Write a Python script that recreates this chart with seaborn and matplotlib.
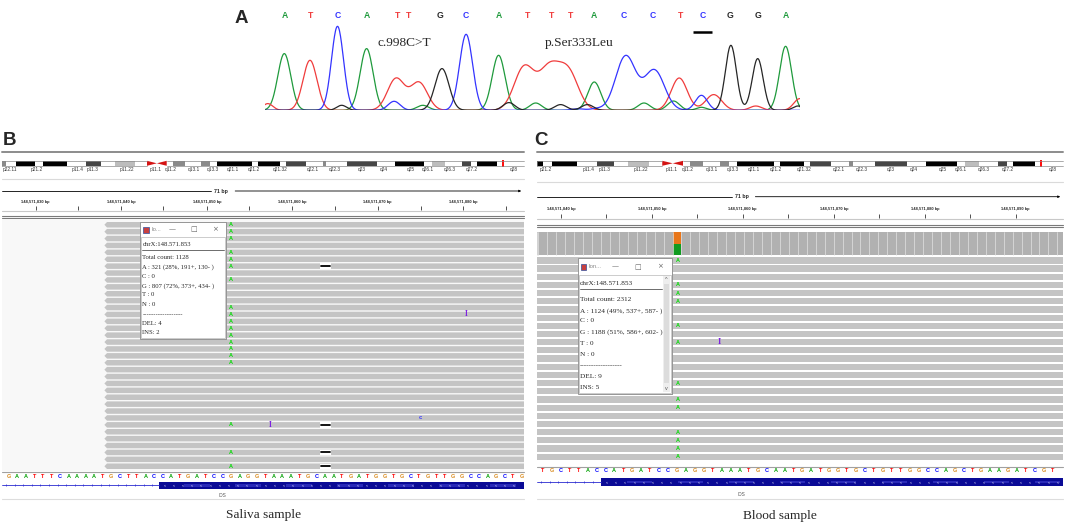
import numpy as np
import pandas as pd
import matplotlib.pyplot as plt
from matplotlib.patches import Rectangle, Polygon
import seaborn as sns

sns.set_theme(style="white")
plt.rcParams["font.family"] = ["Liberation Sans", "DejaVu Sans"]
SERIF = ["Liberation Serif", "DejaVu Serif"]

W, H = 1065, 523

# ---------------- panel A : Sanger trace ----------------
base_calls = list("ATCATTGCATTTACCTCGGA")
base_x = [285, 311, 337.5, 366.6, 398, 408.3, 440, 466, 498.6, 528, 552, 571, 594, 623.7, 652.5, 681, 703, 730, 757.7, 785.6]
base_colors = {"A": "#1f9a3c", "T": "#f03c3c", "C": "#3434ff", "G": "#262626"}

peak_A_x = [284.3, 366.6, 422.8, 498.6, 535.7, 594.3, 644, 673.5, 701.4, 785.6]
peak_A_h = [56.7, 61.7, 5, 55, 7.3, 28.3, 7.3, 9.3, 3, 64]
peak_A_w = [6.5, 6.5, 6, 6.5, 6, 6.5, 6, 6, 5, 6]
peak_T_x = [267.8, 310, 396, 419, 524.3, 549, 568.3, 679.2, 713.7, 755.8, 799.8]
peak_T_h = [6.7, 50, 31.7, 27.7, 43.3, 40, 37.7, 32.3, 15.7, 4.3, 11.7]
peak_T_w = [5, 7, 8.5, 8.5, 10, 10, 10, 8, 8, 6, 6]
peak_C_x = [337.5, 394.1, 466.1, 578, 596, 625.7, 654.4, 701.4]
peak_C_h = [84, 9, 76, 1.5, 1.5, 54.3, 40, 15]
peak_C_w = [6, 6, 6.5, 6, 6, 10, 10, 6]
peak_G_x = [341.7, 442, 508.9, 560.6, 587.4, 730.9, 757.7, 797.9]
peak_G_h = [5, 41.7, 7.7, 5.7, 5.7, 65, 51.7, 4.3]
peak_G_w = [5, 7, 6, 6, 6, 5.5, 5.5, 5]

# ---------------- IGV panels ----------------
band_edges = [1.7, 6.1, 16.2, 34.5, 42.9, 66.6, 85.5, 101.4, 115, 134.5, 147, 166.7, 173.4, 185.3,
              201.1, 209.6, 217.4, 251.9, 258, 280, 286.3, 306, 322.8, 326.2, 346.5, 377, 394.5,
              424.3, 431.7, 444.5, 462.1, 471, 476.7, 497, 560]
band_stain = ["gpos50", "gneg", "gpos100", "gneg", "gpos100", "gneg", "gpos75", "gneg", "gpos25",
              "gneg", "acen", "gneg", "gpos50", "gneg", "gpos50", "gneg", "gpos100", "gneg",
              "gpos100", "gneg", "gpos75", "gneg", "gpos50", "gneg", "gpos75", "gneg", "gpos100",
              "gneg", "gpos25", "gneg", "gpos75", "gneg", "gpos100", "gneg"]
stain_colors = {"gneg": "white", "gpos25": "#bdbdbd", "gpos50": "#8a8a8a",
                "gpos75": "#464646", "gpos100": "black"}
band_names = ["p22.11", "p21.2", "p11.4", "p11.3", "p11.22", "p11.1", "q11.2", "q13.1", "q13.3",
              "q21.1", "q21.2", "q21.32", "q22.1", "q22.3", "q23", "q24", "q25", "q26.1",
              "q26.3", "q27.2", "q28"]
band_label_x = [10, 37, 78, 93, 127, 155.5, 171, 194, 213, 233, 253.5, 280.6, 312.7, 334.7,
                361.7, 383.7, 410.8, 427.7, 449.6, 471.6, 513.9]
view_marker = 502.7

ruler_b_labels = ["148,571,830 bp", "148,571,840 bp", "148,571,850 bp",
                  "148,571,860 bp", "148,571,870 bp", "148,571,880 bp"]
ruler_b_major = [35.5, 121, 207, 292.4, 377.6, 463]
ruler_b_minor = [77.8, 163.3, 249, 334.7, 421, 506]
ruler_c_labels = ["148,571,840 bp", "148,571,850 bp", "148,571,860 bp",
                  "148,571,870 bp", "148,571,880 bp", "148,571,890 bp"]
ruler_c_major = [561, 652, 742.6, 833.8, 924.9, 1015.7]
ruler_c_minor = [605.8, 697.2, 788.4, 879.1, 970.3]

ref_b = "GAATTTCAAAATGCTTACCATGATCCGAGGTAAATGCAATGATGGTGCTGTTGGCCAGCTG"
ref_c = "TGCTTACCATGATCCGAGGTAAATGCAATGATGGTGCTGTTGGCCAGCTGAAGATCGT"
seq_colors = {"A": "#00a000", "C": "#0000ff", "G": "#d98a1c", "T": "#ff0000"}

b_rows = 36
b_alt_rows = [0, 1, 2, 4, 5, 6, 8, 12, 13, 14, 15, 16, 17, 18, 19, 20, 29, 33, 35]
b_del_rows = [6, 29, 33, 35]
b_ins_rows = [13, 29]
b_ins_x = [466.7, 270.5]
b_mis_rows = [28]
b_mis_x = [420]

c_rows = 25
c_alt_rows = [0, 3, 4, 5, 8, 10, 15, 17, 18, 21, 22, 23, 24]
c_ins_rows = [10]
c_ins_x = [719]

popup_b = ["chrX:148.571.853", "Total count: 1128", "A : 321 (28%, 191+, 130- )", "C : 0",
           "G : 807 (72%, 373+, 434- )", "T : 0", "N : 0", "------------------", "DEL: 4", "INS: 2"]
popup_b_y = [244, 257.7, 267.3, 276.7, 286, 295, 304.3, 314.3, 323.3, 332.7]
popup_c = ["chrX:148.571.853", "Total count: 2312", "A : 1124 (49%, 537+, 587- )", "C : 0",
           "G : 1188 (51%, 586+, 602- )", "T : 0", "N : 0", "------------------", "DEL: 9", "INS: 5"]
popup_c_y = [283.3, 299.3, 310.7, 321, 332.3, 343.3, 354.3, 365.7, 376.7, 387.7]

fig = plt.figure(figsize=(W / 100, H / 100), dpi=100)
ax = fig.add_axes([0, 0, 1, 1])
ax.set_xlim(0, W)
ax.set_ylim(H, 0)
ax.axis("off")

# ---------- chromatogram ----------
ax_a = fig.add_axes([265 / W, 1 - 109.5 / H, 535 / W, 91.5 / H])
ax_a.set_facecolor("none")
grid = np.arange(262, 802, 0.5)
frames = []
for b, xs, hs, ws in [("A", peak_A_x, peak_A_h, peak_A_w), ("T", peak_T_x, peak_T_h, peak_T_w),
                      ("C", peak_C_x, peak_C_h, peak_C_w), ("G", peak_G_x, peak_G_h, peak_G_w)]:
    sig = np.zeros_like(grid)
    for p, h, w in zip(xs, hs, ws):
        sig += h * np.exp(-0.5 * ((grid - p) / w) ** 2)
    frames.append(pd.DataFrame({"pos": grid, "signal": sig, "base": b}))
trace = pd.concat(frames, ignore_index=True)
sns.lineplot(data=trace, x="pos", y="signal", hue="base", palette=base_colors,
             estimator=None, sort=False, legend=False, lw=0.9, ax=ax_a)
ax_a.set_xlim(265, 800)
ax_a.set_ylim(0.8, 92.3)
ax_a.axis("off")

ax.text(241, 22.7, "A", fontsize=13.5, fontweight="bold", ha="center", va="baseline")
for b, x in zip(base_calls, base_x):
    ax.text(x, 18, b, fontsize=6.2, fontweight="bold", color=base_colors[b], ha="center", va="baseline")
ax.plot([692.6, 711.8], [31.7, 31.7], color="black", lw=1.8, solid_capstyle="butt")
ax.text(377, 46, "c.998C>T", fontsize=9.6, family=SERIF, ha="left", va="baseline")
ax.text(544.5, 46, "p.Ser333Leu", fontsize=9.6, family=SERIF, ha="left", va="baseline")


def ideogram(xmap, x_lo, x_hi, y0, y1, label_y):
    for e0, e1, st in zip(band_edges[:-1], band_edges[1:], band_stain):
        a, b = max(xmap(e0), x_lo), min(xmap(e1), x_hi)
        if b <= a:
            continue
        if st == "acen":
            mid, ym = (a + b) / 2, (y0 + y1) / 2
            ax.add_patch(Polygon([(a, y0), (a, y1), (mid, ym)], color="#d41414", lw=0))
            ax.add_patch(Polygon([(b, y0), (b, y1), (mid, ym)], color="#d41414", lw=0))
            cen = (a, b)
        else:
            ax.add_patch(Rectangle((a, y0), b - a, y1 - y0, fc=stain_colors[st], ec="none"))
    for yy in (y0, y1):
        ax.plot([x_lo, cen[0]], [yy, yy], color="#8a8a8a", lw=0.5)
        ax.plot([cen[1], x_hi], [yy, yy], color="#8a8a8a", lw=0.5)
    ax.plot([x_lo, x_lo], [y0, y1], color="#8a8a8a", lw=0.5)
    mx = xmap(view_marker)
    ax.add_patch(Rectangle((mx - 1, y0 - 1.3), 2, y1 - y0 + 2.6, fc="#ff1010", ec="none"))
    for name, bx in zip(band_names, band_label_x):
        x = xmap(bx)
        if x_lo + 4 <= x <= x_hi:
            ax.text(x, label_y, name, fontsize=3.4, color="#333333", ha="center", va="center")


def ruler(x_lo, x_hi, y_top, y_sep, y_bp, bp_x, labels, major, minor, y_lab, y_t0, y_t1,
          y_bot, y_dbl):
    ax.plot([x_lo, x_hi], [y_top, y_top], color="#8c8c8c", lw=1.4)
    ax.plot([x_lo, x_hi], [y_sep, y_sep], color="#dadada", lw=0.8)
    ax.text(bp_x, y_bp, "71 bp", fontsize=3.8, fontweight="bold", ha="center", va="center")
    ax.plot([x_lo, bp_x - 10], [y_bp, y_bp], color="black", lw=0.6)
    ax.annotate("", xy=(x_hi, y_bp), xytext=(bp_x + 11, y_bp),
                arrowprops=dict(arrowstyle="-|>", lw=0.6, color="black", mutation_scale=3))
    for lab, x in zip(labels, major):
        ax.text(x, y_lab, lab, fontsize=2.9, fontweight="bold", ha="center", va="center")
    ax.vlines(major + minor, y_t0, y_t1, color="#333333", lw=0.6)
    ax.plot([x_lo, x_hi], [y_bot, y_bot], color="#c8c8c8", lw=0.8)
    ax.plot([x_lo, x_hi], [y_dbl, y_dbl], color="#7a7a7a", lw=0.8)
    ax.plot([x_lo, x_hi], [y_dbl + 1.8, y_dbl + 1.8], color="#7a7a7a", lw=0.8)


def popup(x0, y0, x1, y1, y_title, title, lines, line_y, fs, sym_x, scroll=False):
    ax.add_patch(Rectangle((x0 + 1.3, y0 + 1.3), x1 - x0, y1 - y0, fc="#9a9a9a", ec="none", alpha=0.6))
    ax.add_patch(Rectangle((x0, y0), x1 - x0, y1 - y0, fc="white", ec="#8a8a8a", lw=0.6))
    ax.add_patch(Rectangle((x0 + 1, y_title), x1 - x0 - 2, y1 - y_title - 1, fc="white",
                           ec="#b8b8b8", lw=0.5))
    ym = (y0 + y_title) / 2
    ax.add_patch(Rectangle((x0 + 3, ym - 3), 5.5, 6, fc="#c84040", ec="#3050a0", lw=0.5))
    ax.text(x0 + 11, ym, title, fontsize=4.2, color="#888888", ha="left", va="center")
    for s, sx in zip(["—", "□", "×"], sym_x):
        ax.text(sx, ym, s, fontsize=5, color="#666666", ha="center", va="center", family=["DejaVu Sans"])
    tx = x0 + 2.3
    right = x1 - (10 if scroll else 2.5)
    for t, yy in zip(lines, line_y):
        ax.text(tx, yy, t, fontsize=fs, family=SERIF, ha="left", va="center")
    ax.plot([tx, right], [line_y[0] + 5.5, line_y[0] + 5.5], color="#555555", lw=0.6)
    if scroll:
        ax.add_patch(Rectangle((x1 - 8.5, y_title + 1), 6.7, y1 - y_title - 3, fc="#eeeeee", ec="none"))
        ax.add_patch(Rectangle((x1 - 8, y_title + 9), 5.7, y1 - y_title - 20, fc="#dcdcdc", ec="none"))
        ax.text(x1 - 5.2, y_title + 4.5, "^", fontsize=4, color="#555555", ha="center", va="center")
        ax.text(x1 - 5.2, y1 - 5, "v", fontsize=4, color="#555555", ha="center", va="center")


def read_rows(x_lo, x_hi, y0, pitch, h, n, point):
    for i in range(n):
        top = y0 + pitch * i
        if point:
            pts = [(x_lo, top), (x_hi, top), (x_hi, top + h), (x_lo, top + h), (x_lo - 2.6, top + h / 2)]
            ax.add_patch(Polygon(pts, fc="#c4c4c4", ec="none"))
        else:
            ax.add_patch(Rectangle((x_lo, top), x_hi - x_lo, h, fc="#c4c4c4", ec="none"))


def gene(x_lo, x_hi, x_box, y_mid, half, ids_x, ids_y, y_end):
    ax.plot([x_lo, x_box], [y_mid, y_mid], color="#2a2ad0", lw=0.6)
    tick_x = np.arange(x_lo + 4, x_box, 8.6)
    ax.plot(tick_x, np.full(len(tick_x), y_mid), ls="none", marker="|", ms=2, mew=0.5, color="#2a2ad0")
    ax.add_patch(Rectangle((x_box, y_mid - half), x_hi - x_box, 2 * half, fc="#0a0a96", ec="none"))
    for k, sx in enumerate(np.arange(x_box, x_hi, 25.5)):
        if k % 2 == 1:
            ax.add_patch(Rectangle((sx, y_mid - 1.3), min(25.5, x_hi - sx), 2.6, fc="#2a2ab8", ec="none"))
    for cx in np.arange(x_box + 6, x_hi - 2, 9.2):
        ax.text(cx, y_mid, "<", fontsize=2.6, color="white", ha="center", va="center")
    ax.text(ids_x, ids_y, "IDS", fontsize=3.4, color="#555555", ha="center", va="center")
    ax.plot([x_lo, x_hi], [y_end, y_end], color="#dddddd", lw=0.8)


# ---------- panel B (saliva) ----------
bx0, bx1 = 2, 524
ax.text(9.7, 145, "B", fontsize=13.5, fontweight="bold", ha="center", va="baseline")
ideogram(lambda v: v, bx0, bx1, 160.8, 165.8, 169.5)
ruler(bx0, bx1, 152.3, 179, 191, 221.4, ruler_b_labels, ruler_b_major, ruler_b_minor,
      201.7, 206, 210, 211, 216)
ax.add_patch(Rectangle((bx0, 219.8), bx1 - bx0, 251.5, fc="#f8f8f8", ec="none"))
b_pitch, b_h, b_top = 6.9, 5.5, 222
read_rows(107, bx1, b_top, b_pitch, b_h, b_rows, True)
b_mid = lambda r: b_top + b_pitch * r + b_h / 2
for r in b_alt_rows:
    ax.text(231, b_mid(r), "A", fontsize=4, fontweight="bold", color="#00dd00", ha="center", va="center")
for r in b_del_rows:
    ax.add_patch(Rectangle((320, b_top + b_pitch * r), 11, b_h, fc="white", ec="none"))
    ax.plot([321.2, 329.8], [b_mid(r), b_mid(r)], color="black", lw=1.3)
for r, x in zip(b_ins_rows, b_ins_x):
    ax.text(x, b_mid(r), "I", fontsize=5.5, fontweight="bold", family=SERIF, color="#7d22e0",
            ha="center", va="center")
for r, x in zip(b_mis_rows, b_mis_x):
    ax.text(x, b_mid(r), "c", fontsize=4.2, fontweight="bold", color="#3a3aff", ha="center", va="center")
ax.plot([bx0, bx1], [472.3, 472.3], color="#a0a0a0", lw=0.8)
for i, ch in enumerate(ref_b):
    ax.text(231 + (i - 26) * 8.55, 476, ch, fontsize=4, fontweight="bold", color=seq_colors[ch],
            ha="center", va="center")
gene(bx0, bx1, 158.5, 485.3, 3.7, 222.5, 495.7, 499.3)
popup(140, 222.3, 226, 339, 236.7, "Io...", popup_b, popup_b_y, 4.8, [171.7, 194, 215])
ax.text(263.4, 518.3, "Saliva sample", fontsize=9.6, family=SERIF, ha="center", va="baseline")

# ---------- panel C (blood) ----------
cx0, cx1 = 537, 1063
ax.text(541, 145, "C", fontsize=13.5, fontweight="bold", ha="center", va="baseline")
ideogram(lambda v: 551.5 + 1.064 * (v - 42.9), cx0, cx1, 160.8, 165.8, 170)
ruler(cx0, cx1, 152, 181.7, 196.7, 741.6, ruler_c_labels, ruler_c_major, ruler_c_minor,
      209.3, 214.3, 218.3, 219.3, 225)
c_col = 8.95
for k in range(-1, 60):
    a = max(677 + (k - 15.5) * c_col, cx0)
    b = min(677 + (k - 14.5) * c_col, cx1)
    if b <= a:
        continue
    if k == 15:
        ax.add_patch(Rectangle((a, 232.3), b - a, 11.7, fc="#e8761a", ec="none"))
        ax.add_patch(Rectangle((a, 244), b - a, 11, fc="#119b21", ec="none"))
    else:
        ax.add_patch(Rectangle((a, 232.3), b - a, 22.7, fc="#b1b1b1", ec="none"))
    ax.plot([a, a], [232.3, 255], color="#e2e2e2", lw=0.5)
c_pitch, c_h, c_top = 8.18, 6.2, 257.3
read_rows(cx0, cx1, c_top, c_pitch, c_h, c_rows, False)
c_mid = lambda r: c_top + c_pitch * r + c_h / 2
for r in c_alt_rows:
    ax.text(678.3, c_mid(r), "A", fontsize=4, fontweight="bold", color="#00dd00", ha="center", va="center")
for r, x in zip(c_ins_rows, c_ins_x):
    ax.text(x, c_mid(r), "I", fontsize=6, fontweight="bold", family=SERIF, color="#7d22e0",
            ha="center", va="center")
ax.plot([cx0, cx1], [467.3, 467.3], color="#a0a0a0", lw=0.8)
for i, ch in enumerate(ref_c):
    ax.text(677 + (i - 15) * c_col, 471, ch, fontsize=4, fontweight="bold", color=seq_colors[ch],
            ha="center", va="center")
gene(cx0, cx1, 601, 482, 3.9, 741.6, 495, 499)
popup(577.7, 258.3, 671.7, 394, 275, "Ion...", popup_c, popup_c_y, 5.2, [615, 637.3, 660], scroll=True)
ax.text(780, 519, "Blood sample", fontsize=9.6, family=SERIF, ha="center", va="baseline")

fig.savefig("out.png", dpi=100)
